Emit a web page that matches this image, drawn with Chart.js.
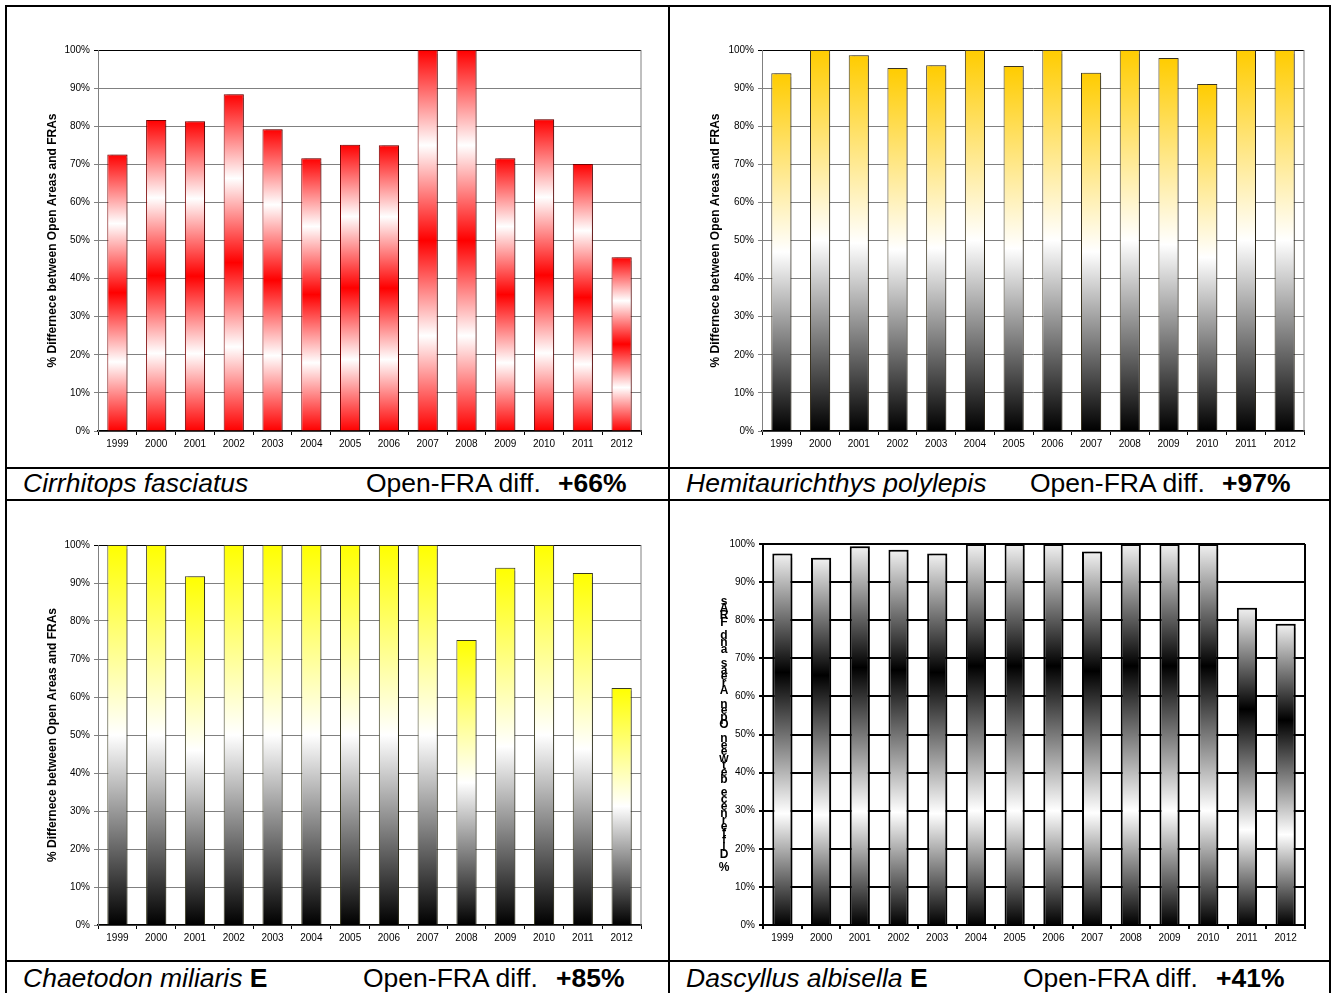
<!DOCTYPE html>
<html>
<head>
<meta charset="utf-8">
<script src="https://cdn.jsdelivr.net/npm/chart.js@4.4.1/dist/chart.umd.min.js"></script>
<style>
  body { margin: 0; background: #fff; width: 1332px; height: 993px; overflow: hidden; position: relative; font-family: "Liberation Sans", Arial, sans-serif; }
  .ln { position: absolute; background: #000; }
  canvas { position: absolute; }
  .cap { position: absolute; font-size: 25px; line-height: 25px; color: #000; white-space: nowrap; transform: scaleX(1.06); transform-origin: left top; }
  .cap i { font-style: italic; }
</style>
</head>
<body>
<div class="ln" style="left:5px;top:5px;width:1326px;height:2px"></div>
<div class="ln" style="left:5px;top:5px;width:2px;height:988px"></div>
<div class="ln" style="left:1329px;top:5px;width:2px;height:988px"></div>
<div class="ln" style="left:668px;top:5px;width:2px;height:988px"></div>
<div class="ln" style="left:5px;top:467px;width:1326px;height:2px"></div>
<div class="ln" style="left:5px;top:499px;width:1326px;height:2px"></div>
<div class="ln" style="left:5px;top:960px;width:1326px;height:2px"></div>

<canvas id="c1" width="661" height="460" style="left:7px;top:7px"></canvas>
<canvas id="c2" width="659" height="460" style="left:670px;top:7px"></canvas>
<canvas id="c3" width="661" height="459" style="left:7px;top:501px"></canvas>
<canvas id="c4" width="659" height="459" style="left:670px;top:501px"></canvas>

<div class="cap" style="left:23px;top:471px"><i>Cirrhitops fasciatus</i></div>
<div class="cap" style="left:366px;top:471px">Open-FRA diff.</div>
<div class="cap" style="left:558px;top:471px"><b>+66%</b></div>
<div class="cap" style="left:686px;top:471px"><i>Hemitaurichthys polylepis</i></div>
<div class="cap" style="left:1030px;top:471px">Open-FRA diff.</div>
<div class="cap" style="left:1222px;top:471px"><b>+97%</b></div>
<div class="cap" style="left:23px;top:966px"><i>Chaetodon miliaris</i> <b>E</b></div>
<div class="cap" style="left:363px;top:966px">Open-FRA diff.</div>
<div class="cap" style="left:556px;top:966px"><b>+85%</b></div>
<div class="cap" style="left:686px;top:966px"><i>Dascyllus albisella</i> <b>E</b></div>
<div class="cap" style="left:1023px;top:966px">Open-FRA diff.</div>
<div class="cap" style="left:1216px;top:966px"><b>+41%</b></div>

<script>
const years = ['1999','2000','2001','2002','2003','2004','2005','2006','2007','2008','2009','2010','2011','2012'];
const cirrhitopsValues = [72.6, 81.6, 81.3, 88.4, 79.2, 71.6, 75.1, 75.0, 100, 100, 71.6, 81.8, 70.1, 45.6];
const hemitaurichthysValues = [93.9, 100, 98.6, 95.3, 96.0, 100, 95.8, 100, 94.0, 100, 97.9, 91.1, 100, 100];
const chaetodonValues = [100, 100, 91.8, 100, 100, 100, 100, 100, 100, 75.0, 94.0, 100, 92.6, 62.4];
const dascyllusValues = [97.5, 96.4, 99.4, 98.5, 97.5, 100, 100, 100, 98.0, 100, 100, 100, 83.3, 79.1];
const yTitle = '% Differnece between Open Areas and FRAs';
const FONT = '"Liberation Sans", Arial, sans-serif';

// gradient running over each bar's own height
function barFill(stops) {
  return (ctx) => {
    const chart = ctx.chart;
    if (!chart.chartArea || ctx.raw == null) return stops[0][1];
    const ys = chart.scales.y;
    const top = ys.getPixelForValue(ctx.raw);
    const bottom = ys.getPixelForValue(0);
    if (!(bottom > top)) return stops[0][1];
    const g = chart.ctx.createLinearGradient(0, top, 0, bottom);
    stops.forEach(s => g.addColorStop(s[0], s[1]));
    return g;
  };
}

const barShadow = {
  id: 'barShadow',
  beforeDatasetsDraw(chart) {
    const c = chart.ctx;
    c.save();
    c.shadowColor = 'rgba(0,0,0,0.3)';
    c.shadowOffsetX = 3;
    c.shadowOffsetY = 0;
    c.shadowBlur = 1;
  },
  afterDatasetsDraw(chart) { chart.ctx.restore(); }
};

const frame = {
  id: 'frame',
  afterDraw(chart, args, opts) {
    const a = chart.chartArea, c = chart.ctx;
    c.save();
    c.strokeStyle = opts.color;
    c.lineWidth = opts.width;
    c.beginPath();
    c.moveTo(a.right, a.top);
    c.lineTo(a.right, a.bottom);
    c.stroke();
    c.restore();
  }
};

// letters of the title stacked one under another, last letter first
const stackedTitle = {
  id: 'stackedTitle',
  afterDraw(chart, args, opts) {
    if (!opts.text) return;
    const c = chart.ctx;
    const chars = opts.text.split('').reverse();
    c.save();
    c.font = 'bold 12px ' + FONT;
    c.fillStyle = '#000';
    c.textAlign = 'center';
    c.textBaseline = 'middle';
    const step = (opts.y1 - opts.y0) / (chars.length - 1);
    chars.forEach((ch, i) => c.fillText(ch, opts.x, opts.y0 + i * step));
    c.restore();
  }
};

function makeChart(id, values, stops, cfg) {
  const heavy = cfg.heavy;
  return new Chart(document.getElementById(id), {
    type: 'bar',
    data: {
      labels: years,
      datasets: [{
        data: values,
        backgroundColor: barFill(stops),
        borderColor: cfg.border,
        borderWidth: heavy ? 2 : 1,
        borderSkipped: 'bottom',
        barPercentage: 0.52,
        categoryPercentage: 1
      }]
    },
    options: {
      responsive: false,
      animation: false,
      layout: { padding: { left: cfg.padLeft, top: cfg.padTop, right: cfg.padRight, bottom: 0 } },
      plugins: {
        legend: { display: false },
        tooltip: { enabled: false },
        frame: { color: heavy ? '#000' : '#808080', width: heavy ? 2 : 1 },
        stackedTitle: heavy ? { text: yTitle, x: 54, y0: 101, y1: 367 } : {}
      },
      scales: {
        x: {
          offset: true,
          grid: { offset: true, drawOnChartArea: false, drawTicks: true, tickLength: 4, color: '#000', lineWidth: heavy ? 2 : 1 },
          border: { color: '#000', width: heavy ? 2 : 1.5 },
          ticks: { color: '#000', font: { family: FONT, size: 10 }, padding: 3, maxRotation: 0, autoSkip: false },
          afterFit(s) { s.height = cfg.xHeight; }
        },
        y: {
          min: 0,
          max: 100,
          grid: {
            color: (c) => heavy ? '#000' : (c.tick && c.tick.value === 100 ? '#000' : '#808080'),
            lineWidth: heavy ? 2 : 1,
            tickLength: 4
          },
          border: { color: heavy ? '#000' : '#808080', width: heavy ? 2 : 1 },
          ticks: {
            stepSize: 10,
            color: '#000',
            font: { family: FONT, size: 10 },
            padding: 4,
            callback: (v) => v + '%'
          },
          title: {
            display: !heavy,
            text: yTitle,
            color: '#000',
            font: { family: FONT, size: 12, weight: 'bold' },
            padding: { top: 0, bottom: 0 }
          },
          afterFit(s) { s.width = cfg.yWidth; }
        }
      }
    },
    plugins: [barShadow, frame, stackedTitle]
  });
}

makeChart('c1', cirrhitopsValues,
  [[0, '#ff0000'], [0.25, '#ffffff'], [0.5, '#ff0000'], [0.75, '#ffffff'], [1, '#ff0000']],
  { border: '#7a0000', padLeft: 38, yWidth: 53, padTop: 43, padRight: 27, xHeight: 36 });

makeChart('c2', hemitaurichthysValues,
  [[0, '#ffcc00'], [0.5, '#ffffff'], [1, '#000000']],
  { border: '#3a3320', padLeft: 38, yWidth: 54, padTop: 43, padRight: 25, xHeight: 36 });

makeChart('c3', chaetodonValues,
  [[0, '#ffff00'], [0.5, '#ffffff'], [1, '#000000']],
  { border: '#3a3a20', padLeft: 38, yWidth: 53, padTop: 44, padRight: 27, xHeight: 35 });

makeChart('c4', dascyllusValues,
  [[0, '#f2f2f2'], [0.32, '#000000'], [0.7, '#ffffff'], [1, '#000000']],
  { border: '#000', padLeft: 38, yWidth: 55, padTop: 43, padRight: 24, xHeight: 35, heavy: true });
</script>
</body>
</html>
